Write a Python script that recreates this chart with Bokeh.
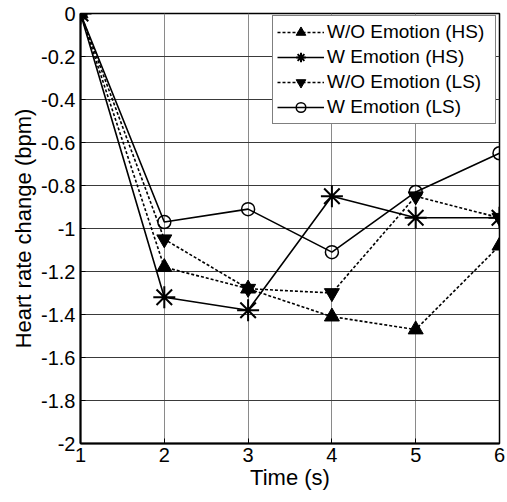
from bokeh.plotting import figure
from bokeh.models import Range1d, FixedTicker
from bokeh.embed import file_html
from bokeh.resources import INLINE

# ---- data ----
time_s = [1, 2, 3, 4, 5, 6]
wo_emotion_hs = [0, -1.18, -1.28, -1.41, -1.47, -1.08]
w_emotion_hs = [0, -1.32, -1.38, -0.85, -0.95, -0.95]
wo_emotion_ls = [0, -1.05, -1.28, -1.30, -0.85, -0.95]
w_emotion_ls = [0, -0.97, -0.91, -1.11, -0.83, -0.65]

x_ticks = [1, 2, 3, 4, 5, 6]
y_ticks = [-2, -1.8, -1.6, -1.4, -1.2, -1, -0.8, -0.6, -0.4, -0.2, 0]
y_tick_labels = ["-2", "-1.8", "-1.6", "-1.4", "-1.2", "-1", "-0.8", "-0.6", "-0.4", "-0.2", "0"]

labels = ["W/O Emotion (HS)", "W Emotion (HS)", "W/O Emotion (LS)", "W Emotion (LS)"]

FONT = "Liberation Sans"

p = figure(width=507, height=502, output_backend="svg", toolbar_location=None,
           x_range=Range1d(1, 6), y_range=Range1d(-2, 0),
           min_border_left=80, min_border_right=8, min_border_top=13, min_border_bottom=59)

p.background_fill_color = "white"
p.border_fill_color = "white"
p.outline_line_color = "black"
p.outline_line_width = 1.5

# axes
p.xaxis.ticker = FixedTicker(ticks=x_ticks)
p.yaxis.ticker = FixedTicker(ticks=y_ticks)
p.yaxis.major_label_overrides = {v: s for v, s in zip(y_ticks, y_tick_labels)}
p.xaxis.major_label_overrides = {v: str(v) for v in x_ticks}
for ax in (p.xaxis[0], p.yaxis[0]):
    ax.axis_line_width = 2
    ax.axis_line_color = "black"
    ax.major_tick_in = 5
    ax.major_tick_out = 0
    ax.minor_tick_line_color = None
    ax.major_label_text_font = FONT
    ax.major_label_text_font_size = "20px"
    ax.major_label_text_color = "black"
    ax.axis_label_text_font = FONT
    ax.axis_label_text_font_size = "22px"
    ax.axis_label_text_font_style = "normal"
    ax.axis_label_text_color = "black"
p.xaxis.major_label_standoff = 4
p.yaxis.major_label_standoff = 5
p.xaxis.axis_label = "Time (s)"
p.yaxis.axis_label = "Heart rate change (bpm)"
p.xaxis.axis_label_standoff = 0
p.yaxis.axis_label_standoff = 2

# grid
p.xgrid.grid_line_color = "#8a8a8a"
p.xgrid.grid_line_width = 1
p.ygrid.grid_line_color = "#3a3a3a"
p.ygrid.grid_line_width = 1

# series
dotted = "3 2"
p.line(time_s, wo_emotion_hs, line_color="black", line_width=1.6, line_dash=dotted, legend_label=labels[0])
p.scatter(time_s, wo_emotion_hs, marker="triangle", size=15, fill_color="black", line_color="black", legend_label=labels[0])

p.line(time_s, w_emotion_hs, line_color="black", line_width=1.6, legend_label=labels[1])
p.scatter(time_s, w_emotion_hs, marker="asterisk", size=22, line_color="black", line_width=2, legend_label=labels[1])

p.line(time_s, wo_emotion_ls, line_color="black", line_width=1.6, line_dash=dotted, legend_label=labels[2])
p.scatter(time_s, wo_emotion_ls, marker="inverted_triangle", size=15, fill_color="black", line_color="black", legend_label=labels[2])

p.line(time_s, w_emotion_ls, line_color="black", line_width=1.6, legend_label=labels[3])
p.scatter(time_s, w_emotion_ls, marker="circle", size=13, fill_color=None, line_color="black", line_width=1.5, legend_label=labels[3])

# legend
lg = p.legend[0]
lg.location = (192, 319)
lg.border_line_color = "black"
lg.border_line_width = 1
lg.background_fill_color = "white"
lg.background_fill_alpha = 1
lg.padding = 4
lg.spacing = 1
lg.margin = 0
lg.glyph_width = 47
lg.glyph_height = 24
lg.label_height = 24
lg.label_width = 164
lg.label_standoff = 3
lg.label_text_font = FONT
lg.label_text_font_size = "19px"
lg.label_text_color = "black"

open("out.html", "w").write(file_html(p, INLINE))
